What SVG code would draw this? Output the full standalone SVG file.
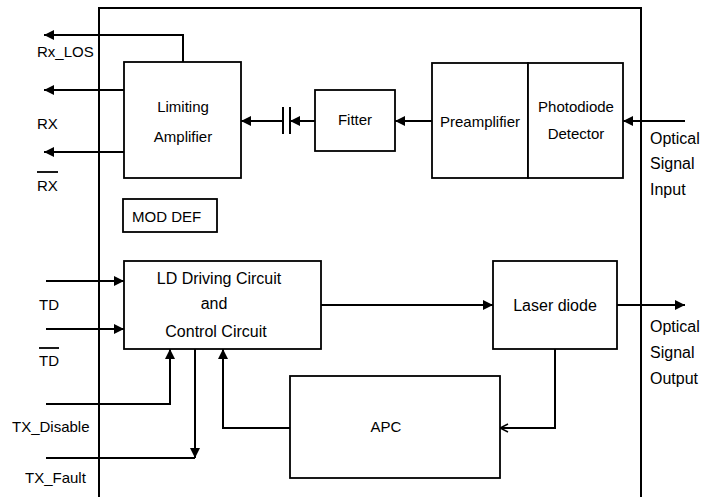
<svg xmlns="http://www.w3.org/2000/svg" width="710" height="497" viewBox="0 0 710 497">
<defs>
<marker id="ah" viewBox="0 0 10 10" refX="10" refY="5" markerWidth="10" markerHeight="10" markerUnits="userSpaceOnUse" orient="auto">
<path d="M0,0 L10,5 L0,10 Z" fill="#000"/>
</marker>
<marker id="oh" viewBox="0 0 10 10" refX="9" refY="5" markerWidth="10" markerHeight="10" markerUnits="userSpaceOnUse" orient="auto">
<path d="M1,1 L9,5 L1,9" fill="none" stroke="#000" stroke-width="1.5"/>
</marker>
</defs>
<style>
.box{fill:#fff;stroke:#000;stroke-width:1.8}
.ln{fill:none;stroke:#000;stroke-width:2}
.t{font-family:"Liberation Sans",Arial,sans-serif;font-size:15px;fill:#000}
.c{text-anchor:middle}
</style>
<rect width="710" height="497" fill="#fff"/>
<g id="module"><path class="ln" d="M99,500 V8 H641 V500"/></g>

<g id="connectors">
<path class="ln" d="M183,62 V35 H44" marker-end="url(#ah)"/>
<path class="ln" d="M124,90 H44" marker-end="url(#ah)"/>
<path class="ln" d="M124,152 H44" marker-end="url(#ah)"/>
<path class="ln" d="M283,121 H241" marker-end="url(#ah)"/>
<path class="ln" d="M283,107 V134 M290,107 V134"/>
<path class="ln" d="M315,121 H290" marker-end="url(#ah)"/>
<path class="ln" d="M432,121 H395" marker-end="url(#ah)"/>
<path class="ln" d="M685,121 H623" marker-end="url(#ah)"/>
<path class="ln" d="M46,281 H124" marker-end="url(#ah)"/>
<path class="ln" d="M46,329 H124" marker-end="url(#ah)"/>
<path class="ln" d="M46,404 H170 V349" marker-end="url(#ah)"/>
<path class="ln" d="M46,458 H195"/>
<path class="ln" d="M195,349 V458" marker-end="url(#ah)"/>
<path class="ln" d="M290,428 H223 V349" marker-end="url(#ah)"/>
<path class="ln" d="M321,305 H493" marker-end="url(#ah)"/>
<path class="ln" d="M617,305 H685" marker-end="url(#ah)"/>
<path class="ln" d="M555,349 V428 H500" marker-end="url(#oh)"/>
</g>

<g id="limiting-amplifier"><rect class="box" x="124" y="62" width="117" height="116"/>
<text class="t c" x="183" y="112">Limiting</text><text class="t c" x="183" y="142">Amplifier</text></g>
<g id="fitter"><rect class="box" x="315" y="90" width="80" height="61"/>
<text class="t c" x="355" y="125">Fitter</text></g>
<g id="preamplifier"><rect class="box" x="432" y="63" width="96" height="115"/>
<text class="t c" x="480" y="127">Preamplifier</text></g>
<g id="photodiode"><rect class="box" x="528" y="63" width="95" height="115"/>
<text class="t c" x="576" y="112">Photodiode</text><text class="t c" x="576" y="139">Detector</text></g>
<g id="mod-def"><rect class="box" x="123" y="199" width="94" height="33"/>
<text class="t" x="132" y="222">MOD DEF</text></g>
<g id="ld-driving"><rect class="box" x="124" y="261" width="197" height="88"/>
<text class="t c" x="219" y="284" style="font-size:16px">LD Driving Circuit</text>
<text class="t c" x="214" y="309" style="font-size:16px">and</text>
<text class="t c" x="216" y="337" style="font-size:16px">Control Circuit</text></g>
<g id="laser-diode"><rect class="box" x="493" y="261" width="124" height="88"/>
<text class="t c" x="555" y="311" style="font-size:16px">Laser diode</text></g>
<g id="apc"><rect class="box" x="290" y="376" width="210" height="102"/>
<text class="t c" x="386" y="432">APC</text></g>

<g id="labels">
<text class="t" x="37" y="57">Rx_LOS</text>
<text class="t" x="37" y="129">RX</text>
<text class="t" x="37" y="191">RX</text>
<path d="M37,172 H58" stroke="#000" stroke-width="1.8"/>
<text class="t" x="39" y="310">TD</text>
<text class="t" x="39" y="366">TD</text>
<path d="M39,348 H59" stroke="#000" stroke-width="1.8"/>
<text class="t" x="12" y="432">TX_Disable</text>
<text class="t" x="25" y="483">TX_Fault</text>
<text class="t" x="650" y="144" style="font-size:16px">Optical</text>
<text class="t" x="650" y="169" style="font-size:16px">Signal</text>
<text class="t" x="650" y="195" style="font-size:16px">Input</text>
<text class="t" x="650" y="332" style="font-size:16px">Optical</text>
<text class="t" x="650" y="358" style="font-size:16px">Signal</text>
<text class="t" x="650" y="384" style="font-size:16px">Output</text>
</g>
</svg>
